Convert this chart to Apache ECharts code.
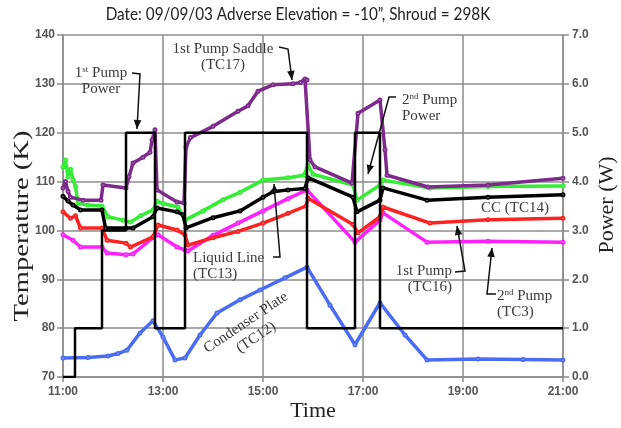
<!DOCTYPE html>
<html><head><meta charset="utf-8">
<script src="https://cdn.jsdelivr.net/npm/echarts/dist/echarts.min.js"></script>
<style>html,body{margin:0;padding:0;background:#fff}#c{width:621px;height:428px}</style>
</head><body><div id="c"></div>
<script>
// time in decimal hours
const timeTicks = [11, 13, 15, 17, 19, 21];
const tempTicks = [70, 80, 90, 100, 110, 120, 130, 140];
const powerTicks = [0, 1, 2, 3, 4, 5, 6, 7];

const pumpPower = [[11,0],[11.24,0],[11.24,1],[11.78,1],[11.78,3],[12.26,3],[12.26,5],[12.84,5],[12.84,1],[13.44,1],[13.44,5],[15.88,5],[15.88,1],[16.84,1],[16.84,5],[17.34,5],[17.34,1],[21,1]];

const condenserTC12 = [[11.0,73.9],[11.5,74.0],[11.9,74.3],[12.1,74.8],[12.28,75.5],[12.54,79.0],[12.8,81.5],[13.0,78.2],[13.24,73.5],[13.44,73.9],[13.74,78.6],[14.08,83.1],[14.54,85.8],[14.94,87.8],[15.44,90.3],[15.88,92.5],[16.34,84.7],[16.84,76.6],[17.34,85.2],[17.84,78.6],[18.28,73.5],[19.3,73.7],[20.2,73.6],[21.0,73.5]];

const liquidTC13 = [[11.0,113],[11.05,114.4],[11.1,111],[11.15,112.5],[11.2,110.5],[11.25,109],[11.3,105.5],[11.5,105.2],[11.78,105],[11.9,102.8],[12.2,102.1],[12.35,101.7],[12.55,103],[12.8,104.2],[12.88,106],[13.0,105.5],[13.3,104.8],[13.44,102.1],[13.8,104],[14.2,106.3],[14.54,107.8],[15.0,110.3],[15.5,110.8],[15.82,111.3],[15.9,113.4],[16.0,111.5],[16.8,109.3],[16.88,106.2],[17.34,109.3],[17.4,110.3],[18.34,108.7],[19.5,109],[21.0,109.1]];

const ccTC14 = [[11.0,107],[11.1,106],[11.2,105.2],[11.35,104.2],[11.78,104.2],[11.85,100.5],[12.26,100.5],[12.4,100.5],[12.8,102.8],[12.88,104.6],[13.28,103.8],[13.4,103.2],[13.46,100.5],[14.0,102.6],[14.54,104],[15.0,106.8],[15.2,107.9],[15.5,108.3],[15.84,108.6],[15.9,110.8],[16.8,106.8],[16.88,103.8],[17.34,106.2],[17.4,108.7],[18.28,106.2],[19.5,106.8],[21.0,107.3]];

const pump1TC16 = [[11.0,103.8],[11.15,102.5],[11.25,103],[11.35,100.5],[11.78,100.5],[11.88,98],[12.26,97.4],[12.35,96.6],[12.8,98.7],[12.9,101.1],[13.28,100.1],[13.44,99.1],[13.5,97],[14.0,98.5],[14.5,99.8],[15.0,101.5],[15.5,103.5],[15.86,105],[15.9,106.6],[16.8,101.2],[16.9,99.5],[17.34,102.8],[17.4,104.8],[18.34,101.5],[19.5,102.2],[21.0,102.5]];

const pump2TC3 = [[11.0,99.1],[11.2,98],[11.35,96.6],[11.78,96.6],[11.88,95.4],[12.26,95],[12.4,95.2],[12.8,98.5],[12.9,99.1],[13.28,96.6],[13.44,96],[13.5,95.8],[14.0,99],[14.5,101.5],[15.0,104],[15.5,106.5],[15.88,108.3],[16.84,97.6],[17.34,102.1],[17.4,103.6],[18.28,97.6],[19.5,97.8],[21.0,97.6]];

const saddleTC17 = [[11.0,108.7],[11.05,110],[11.1,108],[11.15,106.8],[11.4,106.2],[11.76,106.2],[11.8,109.3],[12.26,108.7],[12.32,111],[12.4,113.8],[12.6,115],[12.74,116],[12.78,118.5],[12.84,120.6],[12.88,108.3],[13.28,105.8],[13.42,105.6],[13.46,117],[13.55,119],[14.0,121.3],[14.5,124.4],[14.7,125.5],[14.9,128.5],[15.2,129.8],[15.6,130],[15.75,130.3],[15.84,131],[15.88,130.8],[15.94,114.4],[16.04,113],[16.78,109.7],[16.9,124],[17.34,126.7],[17.44,116.5],[17.48,111.3],[18.3,108.9],[19.5,109.3],[21.0,110.7]];

const chart = echarts.init(document.getElementById('c'), null, {renderer: 'canvas'});
const gridCol = '#8c8c8c';
const serif = '"Liberation Serif", "Times New Roman", serif';
const txtCol = '#3a3a3a';

function tempSeries(name, data, color, z) {
  return {
    name, type: 'line', data, yAxisIndex: 0, z,
    symbol: 'emptyCircle', symbolSize: 3, showSymbol: true,
    lineStyle: {color, width: 3.5},
    itemStyle: {color, borderWidth: 1},
    animation: false
  };
}

function arrow(points) {
  const n = points.length;
  const [x1, y1] = points[n - 2], [x2, y2] = points[n - 1];
  const a = Math.atan2(y2 - y1, x2 - x1);
  const L = 9, W = 3.8;
  const bx = x2 - L * Math.cos(a), by = y2 - L * Math.sin(a);
  const px = -Math.sin(a) * W, py = Math.cos(a) * W;
  return [
    {type: 'polyline', shape: {points}, style: {stroke: '#111', lineWidth: 1.5, fill: null}, z: 100},
    {type: 'polygon', shape: {points: [[x2, y2], [bx + px, by + py], [bx - px, by - py]]}, style: {fill: '#111'}, z: 100}
  ];
}

function label(x, y, text, align, extra, lh) {
  const h = lh || 16;
  return Object.assign({
    type: 'text', x, y, z: 100,
    style: {
      text, fontFamily: serif, fontSize: 15, fill: txtCol, align: align || 'center', verticalAlign: 'middle', lineHeight: h,
      rich: {
        sup: {fontFamily: serif, fontSize: 9, fill: txtCol, verticalAlign: 'top', lineHeight: h, padding: [0, 0, 6, 0]},
        n: {fontFamily: serif, fontSize: 15, fill: txtCol, lineHeight: h}
      }
    }
  }, extra || {});
}

const graphics = [
  {type: 'text', x: 298, y: 14, scaleX: 0.85, z: 100, style: {text: 'Date: 09/09/03 Adverse Elevation = -10\u201d, Shroud = 298K', fontFamily: 'Lato, "Open Sans", sans-serif', fontSize: 18, fill: '#222', align: 'center', verticalAlign: 'middle'}},
  {type: 'text', x: 22, y: 226, rotation: Math.PI / 2, scaleX: 1.3, z: 100, style: {text: 'Temperature (K)', fontFamily: serif, fontSize: 22, fill: '#222', align: 'center', verticalAlign: 'middle'}},
  {type: 'text', x: 607, y: 205, rotation: Math.PI / 2, z: 100, style: {text: 'Power (W)', fontFamily: serif, fontSize: 22, fill: '#222', align: 'center', verticalAlign: 'middle'}},
  {type: 'text', x: 313, y: 411, z: 100, style: {text: 'Time', fontFamily: serif, fontSize: 22, fill: '#222', align: 'center', verticalAlign: 'middle'}},
  label(101, 81, '{n|1}{sup|st}{n| Pump}\n{n|Power}', 'center'),
  label(223, 57, '1st Pump Saddle\n(TC17)', 'center'),
  label(402, 108, '{n|2}{sup|nd}{n| Pump}\n{n|Power}', 'left'),
  label(193, 266, 'Liquid Line\n(TC13)', 'left'),
  label(251, 330, 'Condenser Plate\n(TC12)', 'center', {rotation: 34 * Math.PI / 180}, 18),
  label(515, 208, 'CC (TC14)', 'center'),
  label(452, 279, '1st Pump\n(TC16)', 'right'),
  label(497, 304, '{n|2}{sup|nd}{n| Pump}\n{n|(TC3)}', 'left'),
  ...arrow([[132, 73], [140, 74], [137, 129]]),
  ...arrow([[279, 47], [288, 49], [292, 80]]),
  ...arrow([[396, 97], [389, 97], [368, 174]]),
  ...arrow([[273, 257], [280, 257], [274, 184]]),
  ...arrow([[455, 272], [465, 271], [457, 226]]),
  ...arrow([[496, 294], [487, 294], [492, 248]])
];

const axisLabelStyle = {fontFamily: '"Liberation Sans", Arial, sans-serif', fontSize: 12, fontWeight: 'bold', color: '#555'};

chart.setOption({
  animation: false,
  backgroundColor: '#fff',
  grid: {left: 63, right: 58, top: 35, bottom: 51, containLabel: false, outerBoundsMode: 'none', show: false},
  xAxis: {
    type: 'value', min: timeTicks[0], max: timeTicks[timeTicks.length - 1], interval: 2,
    axisLine: {show: true, lineStyle: {color: gridCol, width: 1.5}},
    axisTick: {show: true, length: 5, lineStyle: {color: gridCol, width: 1.5}},
    axisLabel: Object.assign({margin: 9, formatter: v => v + ':00'}, axisLabelStyle),
    splitLine: {show: true, lineStyle: {color: gridCol, width: 1.5}}
  },
  yAxis: [
    {
      type: 'value', min: tempTicks[0], max: tempTicks[tempTicks.length - 1], interval: 10, position: 'left',
      axisLine: {show: true, lineStyle: {color: gridCol, width: 1.5}},
      axisTick: {show: true, length: 6, lineStyle: {color: gridCol, width: 1.5}},
      axisLabel: Object.assign({margin: 8}, axisLabelStyle),
      splitLine: {show: true, lineStyle: {color: gridCol, width: 1.5}}
    },
    {
      type: 'value', min: powerTicks[0], max: powerTicks[powerTicks.length - 1], interval: 1, position: 'right',
      axisLine: {show: true, lineStyle: {color: gridCol, width: 1.5}},
      axisTick: {show: true, length: 6, lineStyle: {color: gridCol, width: 1.5}},
      axisLabel: Object.assign({margin: 9, formatter: v => v.toFixed(1)}, axisLabelStyle),
      splitLine: {show: false}
    }
  ],
  series: [
    tempSeries('Condenser Plate (TC12)', condenserTC12, '#4a6cf5', 3),
    tempSeries('2nd Pump (TC3)', pump2TC3, '#ff22ff', 4),
    tempSeries('1st Pump (TC16)', pump1TC16, '#ff2222', 5),
    tempSeries('Liquid Line (TC13)', liquidTC13, '#33ee33', 6),
    tempSeries('CC (TC14)', ccTC14, '#000000', 7),
    tempSeries('1st Pump Saddle (TC17)', saddleTC17, '#7d2a8c', 8),
    {
      name: 'Pump Power', type: 'line', yAxisIndex: 1, data: pumpPower, z: 9,
      symbol: 'none', showSymbol: false,
      lineStyle: {color: '#000', width: 2.5}, animation: false
    }
  ],
  graphic: graphics
});
</script>
</body></html>
